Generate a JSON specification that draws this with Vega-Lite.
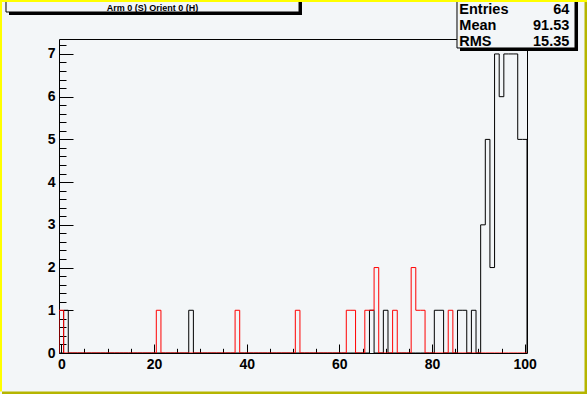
{
  "$schema": "https://vega.github.io/schema/vega-lite/v6.json",
  "width": 468,
  "height": 314,
  "autosize": {"type": "none"},
  "padding": {"left": 59, "top": 39, "right": 60, "bottom": 41},
  "background": "#f3f6f8",
  "config": {
    "view": {"stroke": "#000000", "strokeWidth": 1, "fill": "#f3f6f8"},
    "axis": {
      "grid": false, "domain": false, "labelFlush": false, "labelOverlap": false,
      "labelFont": "Liberation Sans", "labelFontWeight": "bold", "labelFontSize": 14,
      "labelColor": "#000000", "tickColor": "#000000", "tickWidth": 1, "title": null
    }
  },
  "datasets": {
    "hist": [
      {"bin": -1, "black": 0, "red": 0}, {"bin": 0, "black": 0, "red": 1}, {"bin": 1, "black": 1, "red": 0},
      {"bin": 2, "black": 0, "red": 0}, {"bin": 3, "black": 0, "red": 0}, {"bin": 4, "black": 0, "red": 0},
      {"bin": 5, "black": 0, "red": 0}, {"bin": 6, "black": 0, "red": 0}, {"bin": 7, "black": 0, "red": 0},
      {"bin": 8, "black": 0, "red": 0}, {"bin": 9, "black": 0, "red": 0}, {"bin": 10, "black": 0, "red": 0},
      {"bin": 11, "black": 0, "red": 0}, {"bin": 12, "black": 0, "red": 0}, {"bin": 13, "black": 0, "red": 0},
      {"bin": 14, "black": 0, "red": 0}, {"bin": 15, "black": 0, "red": 0}, {"bin": 16, "black": 0, "red": 0},
      {"bin": 17, "black": 0, "red": 0}, {"bin": 18, "black": 0, "red": 0}, {"bin": 19, "black": 0, "red": 0},
      {"bin": 20, "black": 0, "red": 0}, {"bin": 21, "black": 0, "red": 1}, {"bin": 22, "black": 0, "red": 0},
      {"bin": 23, "black": 0, "red": 0}, {"bin": 24, "black": 0, "red": 0}, {"bin": 25, "black": 0, "red": 0},
      {"bin": 26, "black": 0, "red": 0}, {"bin": 27, "black": 0, "red": 0}, {"bin": 28, "black": 1, "red": 0},
      {"bin": 29, "black": 0, "red": 0}, {"bin": 30, "black": 0, "red": 0}, {"bin": 31, "black": 0, "red": 0},
      {"bin": 32, "black": 0, "red": 0}, {"bin": 33, "black": 0, "red": 0}, {"bin": 34, "black": 0, "red": 0},
      {"bin": 35, "black": 0, "red": 0}, {"bin": 36, "black": 0, "red": 0}, {"bin": 37, "black": 0, "red": 0},
      {"bin": 38, "black": 0, "red": 1}, {"bin": 39, "black": 0, "red": 0}, {"bin": 40, "black": 0, "red": 0},
      {"bin": 41, "black": 0, "red": 0}, {"bin": 42, "black": 0, "red": 0}, {"bin": 43, "black": 0, "red": 0},
      {"bin": 44, "black": 0, "red": 0}, {"bin": 45, "black": 0, "red": 0}, {"bin": 46, "black": 0, "red": 0},
      {"bin": 47, "black": 0, "red": 0}, {"bin": 48, "black": 0, "red": 0}, {"bin": 49, "black": 0, "red": 0},
      {"bin": 50, "black": 0, "red": 0}, {"bin": 51, "black": 0, "red": 1}, {"bin": 52, "black": 0, "red": 0},
      {"bin": 53, "black": 0, "red": 0}, {"bin": 54, "black": 0, "red": 0}, {"bin": 55, "black": 0, "red": 0},
      {"bin": 56, "black": 0, "red": 0}, {"bin": 57, "black": 0, "red": 0}, {"bin": 58, "black": 0, "red": 0},
      {"bin": 59, "black": 0, "red": 0}, {"bin": 60, "black": 0, "red": 0}, {"bin": 61, "black": 0, "red": 0},
      {"bin": 62, "black": 0, "red": 1}, {"bin": 63, "black": 0, "red": 1}, {"bin": 64, "black": 0, "red": 0},
      {"bin": 65, "black": 0, "red": 0}, {"bin": 66, "black": 0, "red": 1}, {"bin": 67, "black": 1, "red": 1},
      {"bin": 68, "black": 0, "red": 2}, {"bin": 69, "black": 0, "red": 0}, {"bin": 70, "black": 1, "red": 0},
      {"bin": 71, "black": 0, "red": 0}, {"bin": 72, "black": 0, "red": 1}, {"bin": 73, "black": 0, "red": 0},
      {"bin": 74, "black": 0, "red": 0}, {"bin": 75, "black": 0, "red": 0}, {"bin": 76, "black": 0, "red": 2},
      {"bin": 77, "black": 0, "red": 1}, {"bin": 78, "black": 0, "red": 1}, {"bin": 79, "black": 0, "red": 0},
      {"bin": 80, "black": 0, "red": 0}, {"bin": 81, "black": 1, "red": 0}, {"bin": 82, "black": 1, "red": 0},
      {"bin": 83, "black": 0, "red": 0}, {"bin": 84, "black": 0, "red": 1}, {"bin": 85, "black": 0, "red": 0},
      {"bin": 86, "black": 1, "red": 0}, {"bin": 87, "black": 1, "red": 0}, {"bin": 88, "black": 0, "red": 0},
      {"bin": 89, "black": 1, "red": 0}, {"bin": 90, "black": 0, "red": 0}, {"bin": 91, "black": 3, "red": 0},
      {"bin": 92, "black": 5, "red": 0}, {"bin": 93, "black": 2, "red": 0}, {"bin": 94, "black": 7, "red": 0},
      {"bin": 95, "black": 6, "red": 0}, {"bin": 96, "black": 7, "red": 0}, {"bin": 97, "black": 7, "red": 0},
      {"bin": 98, "black": 7, "red": 0}, {"bin": 99, "black": 5, "red": 0}, {"bin": 100, "black": 5, "red": 0},
      {"bin": 101, "black": 0, "red": 0}
    ]
  },
  "resolve": {"axis": {"x": "independent", "y": "independent"}},
  "layer": [
    {
      "data": {"name": "hist"},
      "mark": {"type": "line", "interpolate": "step", "clip": true, "color": "#000000", "strokeWidth": 1},
      "encoding": {
        "x": {"field": "bin", "type": "quantitative", "scale": {"domain": [-0.5, 100.5], "nice": false, "zero": false},
              "axis": {"orient": "bottom", "values": [0, 20, 40, 60, 80, 100], "ticks": false, "tickSize": 0, "labelPadding": 4}},
        "y": {"field": "black", "type": "quantitative", "scale": {"domain": [0, 7.35], "nice": false, "zero": false},
              "axis": {"orient": "left", "values": [0, 1, 2, 3, 4, 5, 6, 7], "ticks": false, "tickSize": 0, "labelPadding": 4}}
      }
    },
    {
      "data": {"name": "hist"},
      "mark": {"type": "line", "interpolate": "step", "clip": true, "color": "#ff0000", "strokeWidth": 1},
      "encoding": {
        "x": {"field": "bin", "type": "quantitative", "scale": {"domain": [-0.5, 100.5], "nice": false, "zero": false},
              "axis": {"orient": "bottom", "values": [0, 20, 40, 60, 80, 100], "labels": false, "tickSize": -9}},
        "y": {"field": "red", "type": "quantitative", "scale": {"domain": [0, 7.35], "nice": false, "zero": false},
              "axis": {"orient": "left", "values": [0, 1, 2, 3, 4, 5, 6, 7], "labels": false, "tickSize": -14}}
      }
    },
    {
      "data": {"values": [{}]},
      "mark": {"type": "rect", "clip": false, "fill": "#000000"},
      "encoding": {
        "x": {"datum": -11.29, "type": "quantitative", "scale": {"domain": [-0.5, 100.5], "nice": false, "zero": false},
              "axis": {"orient": "bottom", "values": [5, 10, 15, 25, 30, 35, 45, 50, 55, 65, 70, 75, 85, 90, 95], "labels": false, "tickSize": -4.7}},
        "x2": {"datum": 51.94},
        "y": {"datum": 8.38, "type": "quantitative", "scale": {"domain": [0, 7.35], "nice": false, "zero": false},
              "axis": {"orient": "left", "values": [0.2, 0.4, 0.6, 0.8, 1.2, 1.4, 1.6, 1.8, 2.2, 2.4, 2.6, 2.8, 3.2, 3.4, 3.6, 3.8, 4.2, 4.4, 4.6, 4.8, 5.2, 5.4, 5.6, 5.8, 6.2, 6.4, 6.6, 6.8, 7.2], "labels": false, "tickSize": -7}},
        "y2": {"datum": 7.912}
      }
    },
    {
      "data": {"values": [{}]},
      "mark": {"type": "rect", "clip": false, "fill": "#f3f6f8", "stroke": "#000000", "strokeWidth": 1},
      "encoding": {
        "x": {"datum": -11.94, "type": "quantitative", "scale": {"domain": [-0.5, 100.5], "nice": false, "zero": false}, "axis": null},
        "x2": {"datum": 51.30},
        "y": {"datum": 8.38, "type": "quantitative", "scale": {"domain": [0, 7.35], "nice": false, "zero": false}, "axis": null},
        "y2": {"datum": 7.982}
      }
    },
    {
      "data": {"values": [{}]},
      "mark": {"type": "text", "clip": false, "font": "Liberation Sans", "fontWeight": "bold", "fontSize": 9, "align": "center", "baseline": "alphabetic", "color": "#000000"},
      "encoding": {
        "x": {"datum": 19.68, "type": "quantitative", "scale": {"domain": [-0.5, 100.5], "nice": false, "zero": false}, "axis": null},
        "y": {"datum": 8.017, "type": "quantitative", "scale": {"domain": [0, 7.35], "nice": false, "zero": false}, "axis": null},
        "text": {"value": "Arm 0 (S) Orient 0 (H)"}
      }
    },
    {
      "data": {"values": [{}]},
      "mark": {"type": "rect", "clip": false, "fill": "#000000"},
      "encoding": {
        "x": {"datum": 86.04, "type": "quantitative", "scale": {"domain": [-0.5, 100.5], "nice": false, "zero": false}, "axis": null},
        "x2": {"datum": 111.51},
        "y": {"datum": 8.38, "type": "quantitative", "scale": {"domain": [0, 7.35], "nice": false, "zero": false}, "axis": null},
        "y2": {"datum": 7.069}
      }
    },
    {
      "data": {"values": [{}]},
      "mark": {"type": "rect", "clip": false, "fill": "#f3f6f8", "stroke": "#000000", "strokeWidth": 1},
      "encoding": {
        "x": {"datum": 85.39, "type": "quantitative", "scale": {"domain": [-0.5, 100.5], "nice": false, "zero": false}, "axis": null},
        "x2": {"datum": 110.86},
        "y": {"datum": 8.38, "type": "quantitative", "scale": {"domain": [0, 7.35], "nice": false, "zero": false}, "axis": null},
        "y2": {"datum": 7.140}
      }
    },
    {
      "data": {"values": [{}]},
      "mark": {"type": "text", "clip": false, "font": "Liberation Sans", "fontWeight": "bold", "fontSize": 14.5, "align": "left", "baseline": "alphabetic", "lineHeight": 16.2, "color": "#000000"},
      "encoding": {
        "x": {"datum": 85.89, "type": "quantitative", "scale": {"domain": [-0.5, 100.5], "nice": false, "zero": false}, "axis": null},
        "y": {"datum": 7.945, "type": "quantitative", "scale": {"domain": [0, 7.35], "nice": false, "zero": false}, "axis": null},
        "text": {"value": ["Entries", "Mean", "RMS"]}
      }
    },
    {
      "data": {"values": [{}]},
      "mark": {"type": "text", "clip": false, "font": "Liberation Sans", "fontWeight": "bold", "fontSize": 14.5, "align": "right", "baseline": "alphabetic", "lineHeight": 16.2, "color": "#000000"},
      "encoding": {
        "x": {"datum": 109.63, "type": "quantitative", "scale": {"domain": [-0.5, 100.5], "nice": false, "zero": false}, "axis": null},
        "y": {"datum": 7.945, "type": "quantitative", "scale": {"domain": [0, 7.35], "nice": false, "zero": false}, "axis": null},
        "text": {"value": ["64", "91.53", "15.35"]}
      }
    },
    {
      "data": {"values": [{}]},
      "mark": {"type": "rect", "clip": false, "fill": "#b5b500"},
      "encoding": {
        "x": {"datum": 112.91, "type": "quantitative", "scale": {"domain": [-0.5, 100.5], "nice": false, "zero": false}, "axis": null},
        "x2": {"datum": 113.8},
        "y": {"datum": -1.1, "type": "quantitative", "scale": {"domain": [0, 7.35], "nice": false, "zero": false}, "axis": null},
        "y2": {"datum": 8.216}
      }
    },
    {
      "data": {"values": [{}]},
      "mark": {"type": "rect", "clip": false, "fill": "#b5b500"},
      "encoding": {
        "x": {"datum": -12.80, "type": "quantitative", "scale": {"domain": [-0.5, 100.5], "nice": false, "zero": false}, "axis": null},
        "x2": {"datum": 113.8},
        "y": {"datum": -1.1, "type": "quantitative", "scale": {"domain": [0, 7.35], "nice": false, "zero": false}, "axis": null},
        "y2": {"datum": -0.901}
      }
    },
    {
      "data": {"values": [{}]},
      "mark": {"type": "rect", "clip": false, "fill": "#ffff00"},
      "encoding": {
        "x": {"datum": -13.8, "type": "quantitative", "scale": {"domain": [-0.5, 100.5], "nice": false, "zero": false}, "axis": null},
        "x2": {"datum": 113.8},
        "y": {"datum": 8.216, "type": "quantitative", "scale": {"domain": [0, 7.35], "nice": false, "zero": false}, "axis": null},
        "y2": {"datum": 8.4}
      }
    },
    {
      "data": {"values": [{}]},
      "mark": {"type": "rect", "clip": false, "fill": "#ffff00"},
      "encoding": {
        "x": {"datum": -13.8, "type": "quantitative", "scale": {"domain": [-0.5, 100.5], "nice": false, "zero": false}, "axis": null},
        "x2": {"datum": -12.80},
        "y": {"datum": -0.901, "type": "quantitative", "scale": {"domain": [0, 7.35], "nice": false, "zero": false}, "axis": null},
        "y2": {"datum": 8.4}
      }
    }
  ]
}
